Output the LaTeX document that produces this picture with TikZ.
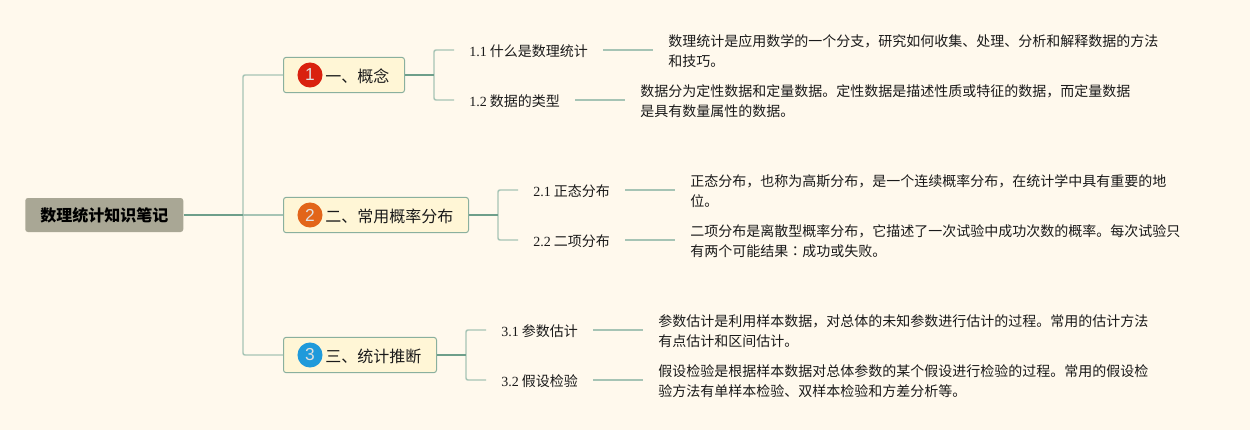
\documentclass[tikz,border=0pt]{standalone}
\usepackage{fontspec}
\setmainfont{Liberation Serif}
\newfontfamily\cjk{Noto Sans CJK SC}
\newfontfamily\cjktc{Noto Sans CJK TC}
\newfontfamily\badgefont{Liberation Sans}
\newcommand{\lat}[1]{{\rmfamily #1}}
\definecolor{bgc}{HTML}{FFF9ED}
\definecolor{rootc}{HTML}{A9A795}
\definecolor{lightline}{HTML}{A6C4B5}
\definecolor{darkline}{HTML}{6E9F8B}
\definecolor{boxfill}{HTML}{FFF6D6}
\definecolor{boxedge}{HTML}{8AB09E}
\definecolor{txt}{HTML}{1A1A1A}
\definecolor{bred}{HTML}{D9210F}
\definecolor{borange}{HTML}{E2651A}
\definecolor{bblue}{HTML}{1F9ADB}
\tikzset{
  x=0.75pt,y=-0.75pt,
  rootbox/.style={fill=rootc,rounded corners=2pt,minimum width=118.5pt,minimum height=25.5pt,inner sep=0pt,anchor=west,text=black,font=\cjk\bfseries\fontsize{12}{14}\selectfont},
  topicbox/.style={draw=boxedge,line width=0.75pt,fill=boxfill,rounded corners=2pt,minimum height=26.5pt,inner sep=0pt,anchor=west},
  topictext/.style={anchor=west,inner sep=0pt,text=txt,font=\cjk\fontsize{12}{14}\selectfont},
  badge/.style={circle,minimum size=18.8pt,inner sep=0pt,text=white!88!black,font=\badgefont\fontsize{13}{14}\selectfont},
  subnode/.style={anchor=west,inner xsep=11.25pt,inner ysep=0pt,text height=10pt,text depth=0.5pt,text=txt,font=\cjk\fontsize{10.5}{15}\selectfont},
  leafnode/.style={anchor=west,inner xsep=11.25pt,inner ysep=0pt,align=left,text=txt,font=\cjk\fontsize{10.5}{15}\selectfont},
  trunk/.style={draw=lightline,line width=1.1pt,rounded corners=1.5pt},
  stem/.style={draw=darkline,line width=1.5pt},
  twig/.style={draw=lightline,line width=1.1pt},
}
\begin{document}
\begin{tikzpicture}
\useasboundingbox[fill=bgc] (0,0) rectangle (1250,430);
% root and topics
\node[rootbox] (root) at (25,215) {数理统计知识笔记};
\node[topicbox,minimum width=90.75pt] (t1) at (283,75) {};
\node[topicbox,minimum width=138.75pt] (t2) at (283,215) {};
\node[topicbox,minimum width=114.75pt] (t3) at (283,355) {};
\node[badge,fill=bred] (b1) at (310,75) {1};
\node[badge,fill=borange] (b2) at (310,215) {2};
\node[badge,fill=bblue] (b3) at (310,355) {3};
\node[topictext] (x1) at (325,76) {一、概念};
\node[topictext] (x2) at (325,216) {二、常用概率分布};
\node[topictext] (x3) at (325,356) {三、统计推断};
% sub nodes
\node[subnode] (s11) at (454,50) {\lat{1.1} 什么是数理统计};
\node[subnode] (s12) at (454,100) {\lat{1.2} 数据的类型};
\node[subnode] (s21) at (518,190) {\lat{2.1} 正态分布};
\node[subnode] (s22) at (518,240) {\lat{2.2} 二项分布};
\node[subnode] (s31) at (486,330) {\lat{3.1} 参数估计};
\node[subnode] (s32) at (486,380) {\lat{3.2} 假设检验};
% leaves
\node[leafnode] (l11) at (653,51.5) {数理统计是应用数学的一个分支，研究如何收集、处理、分析和解释数据的方法\\和技巧。};
\node[leafnode] (l12) at (625,101) {数据分为定性数据和定量数据。定性数据是描述性质或特征的数据，而定量数据\\是具有数量属性的数据。};
\node[leafnode] (l21) at (675,191.5) {正态分布，也称为高斯分布，是一个连续概率分布，在统计学中具有重要的地\\位。};
\node[leafnode] (l22) at (675,241.5) {二项分布是离散型概率分布，它描述了一次试验中成功次数的概率。每次试验只\\有两个可能结果{\cjktc ：}成功或失败。};
\node[leafnode] (l31) at (643,331.5) {参数估计是利用样本数据，对总体的未知参数进行估计的过程。常用的估计方法\\有点估计和区间估计。};
\node[leafnode] (l32) at (643,381.5) {假设检验是根据样本数据对总体参数的某个假设进行检验的过程。常用的假设检\\验方法有单样本检验、双样本检验和方差分析等。};
% connectors
\coordinate (hub) at (243,215);
\coordinate (h1) at (434,75);
\coordinate (h2) at (498,215);
\coordinate (h3) at (466,355);
\draw[trunk] (t1.west) -| (hub) |- (t3.west);
\draw[twig] (hub) -- (t2.west);
\draw[stem] (root.east) -- (hub);
\draw[trunk] (s11.west) -| (h1) |- (s12.west);
\draw[trunk] (s21.west) -| (h2) |- (s22.west);
\draw[trunk] (s31.west) -| (h3) |- (s32.west);
\draw[stem] (t1.east) -- (h1);
\draw[stem] (t2.east) -- (h2);
\draw[stem] (t3.east) -- (h3);
\draw[twig] (s11.east) -- (s11.east -| l11.west);
\draw[twig] (s12.east) -- (s12.east -| l12.west);
\draw[twig] (s21.east) -- (s21.east -| l21.west);
\draw[twig] (s22.east) -- (s22.east -| l22.west);
\draw[twig] (s31.east) -- (s31.east -| l31.west);
\draw[twig] (s32.east) -- (s32.east -| l32.west);
\end{tikzpicture}
\end{document}
